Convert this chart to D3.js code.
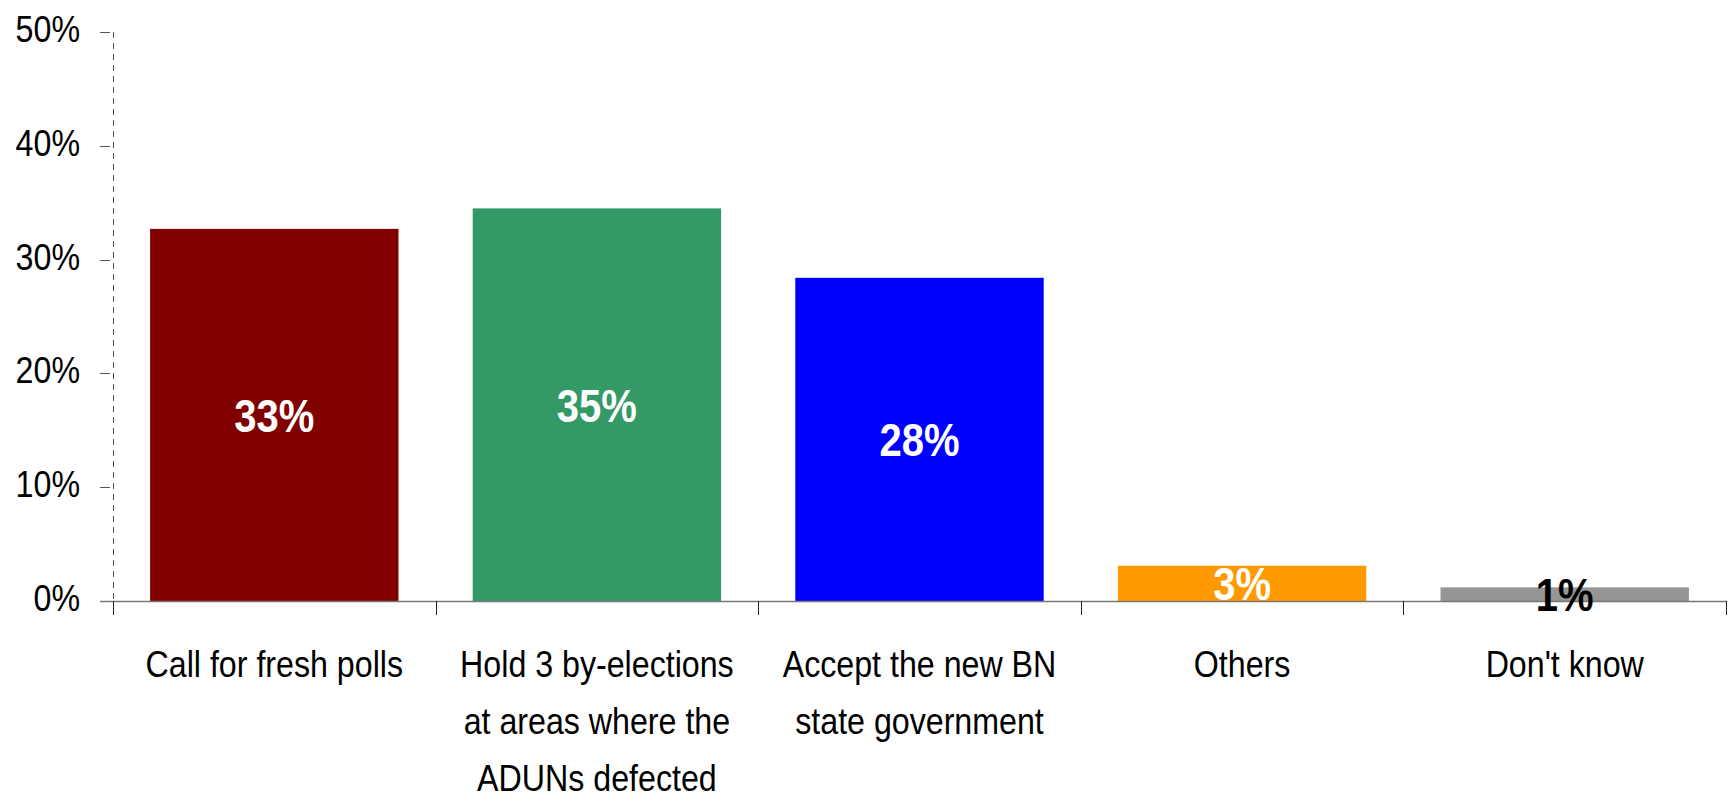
<!DOCTYPE html>
<html><head><meta charset="utf-8">
<script src="https://cdn.jsdelivr.net/npm/d3@7"></script>
<style>html,body{margin:0;padding:0;background:#fff;}svg{display:block;}</style>
</head><body>
<svg id="chart" width="1735" height="798"></svg>
<script>
const categories = ["Call for fresh polls", "Hold 3 by-elections at areas where the ADUNs defected", "Accept the new BN state government", "Others", "Don't know"];
const categoryLines = [["Call for fresh polls"], ["Hold 3 by-elections", "at areas where the", "ADUNs defected"], ["Accept the new BN", "state government"], ["Others"], ["Don't know"]];
const values = [0.327, 0.345, 0.284, 0.031, 0.012];
const valueLabels = ["33%", "35%", "28%", "3%", "1%"];
const barColors = ["#800000", "#339966", "#0000FF", "#FF9900", "#969696"];
const labelColors = ["#FFFFFF", "#FFFFFF", "#FFFFFF", "#FFFFFF", "#000000"];
const yTicks = [0, 0.1, 0.2, 0.3, 0.4, 0.5];

const svg = d3.select("#chart");
const FONT = "'Liberation Sans', Arial, sans-serif";
const SX = 0.87;

const x = d3.scaleBand().domain(categories).range([113, 1726]).paddingInner(0.23).paddingOuter(0.115);
const y = d3.scaleLinear().domain([0, 0.5]).range([601, 32]);
const step = x.step();

// bars
svg.selectAll("rect.bar").data(categories).join("rect")
  .attr("class", "bar")
  .attr("x", d => x(d))
  .attr("width", x.bandwidth())
  .attr("y", (d, i) => y(values[i]))
  .attr("height", (d, i) => y(0) - y(values[i]))
  .attr("fill", (d, i) => barColors[i]);

// y axis dashed line
svg.append("line").attr("x1", 113.5).attr("x2", 113.5).attr("y1", y(0.5)).attr("y2", y(0))
  .attr("stroke", "#555").attr("stroke-width", 1).attr("stroke-dasharray", "6,5");

// y ticks
const yg = svg.append("g");
yTicks.forEach(t => {
  yg.append("line").attr("x1", 100).attr("x2", 110).attr("y1", Math.round(y(t)) + 0.5).attr("y2", Math.round(y(t)) + 0.5)
    .attr("stroke", "#555").attr("stroke-width", 1);
  yg.append("text")
    .attr("transform", `translate(80,${y(t) + 10}) scale(${SX},1)`)
    .attr("text-anchor", "end")
    .attr("font-family", FONT).attr("font-size", 37).attr("fill", "#000")
    .text(d3.format(".0%")(t));
});

// x axis line
svg.append("line").attr("x1", 100).attr("x2", 1727).attr("y1", 601.5).attr("y2", 601.5)
  .attr("stroke", "#777").attr("stroke-width", 1.5);

// x ticks at category boundaries
const bounds = categories.map(c => x(c) - step * x.paddingInner() / 2).concat([x(categories[categories.length - 1]) + x.bandwidth() + step * x.paddingInner() / 2]);
svg.selectAll("line.xt").data(bounds).join("line")
  .attr("class", "xt")
  .attr("x1", d => Math.round(d) + 0.5).attr("x2", d => Math.round(d) + 0.5)
  .attr("y1", 601).attr("y2", 615)
  .attr("stroke", "#222").attr("stroke-width", 1);

// category labels
categories.forEach((c, i) => {
  const cx = x(c) + x.bandwidth() / 2;
  categoryLines[i].forEach((line, j) => {
    svg.append("text")
      .attr("transform", `translate(${cx},${677 + j * 57}) scale(${SX},1)`)
      .attr("text-anchor", "middle")
      .attr("font-family", FONT).attr("font-size", 37).attr("fill", "#000")
      .text(line);
  });
});

// value labels
svg.selectAll("text.val").data(categories).join("text")
  .attr("class", "val")
  .attr("transform", (d, i) => `translate(${x(d) + x.bandwidth() / 2},${(y(values[i]) + y(0)) / 2 + 17}) scale(${SX},1)`)
  .attr("text-anchor", "middle")
  .attr("font-family", FONT).attr("font-size", 46).attr("font-weight", "bold")
  .attr("fill", (d, i) => labelColors[i])
  .text((d, i) => valueLabels[i]);
</script>
</body></html>
